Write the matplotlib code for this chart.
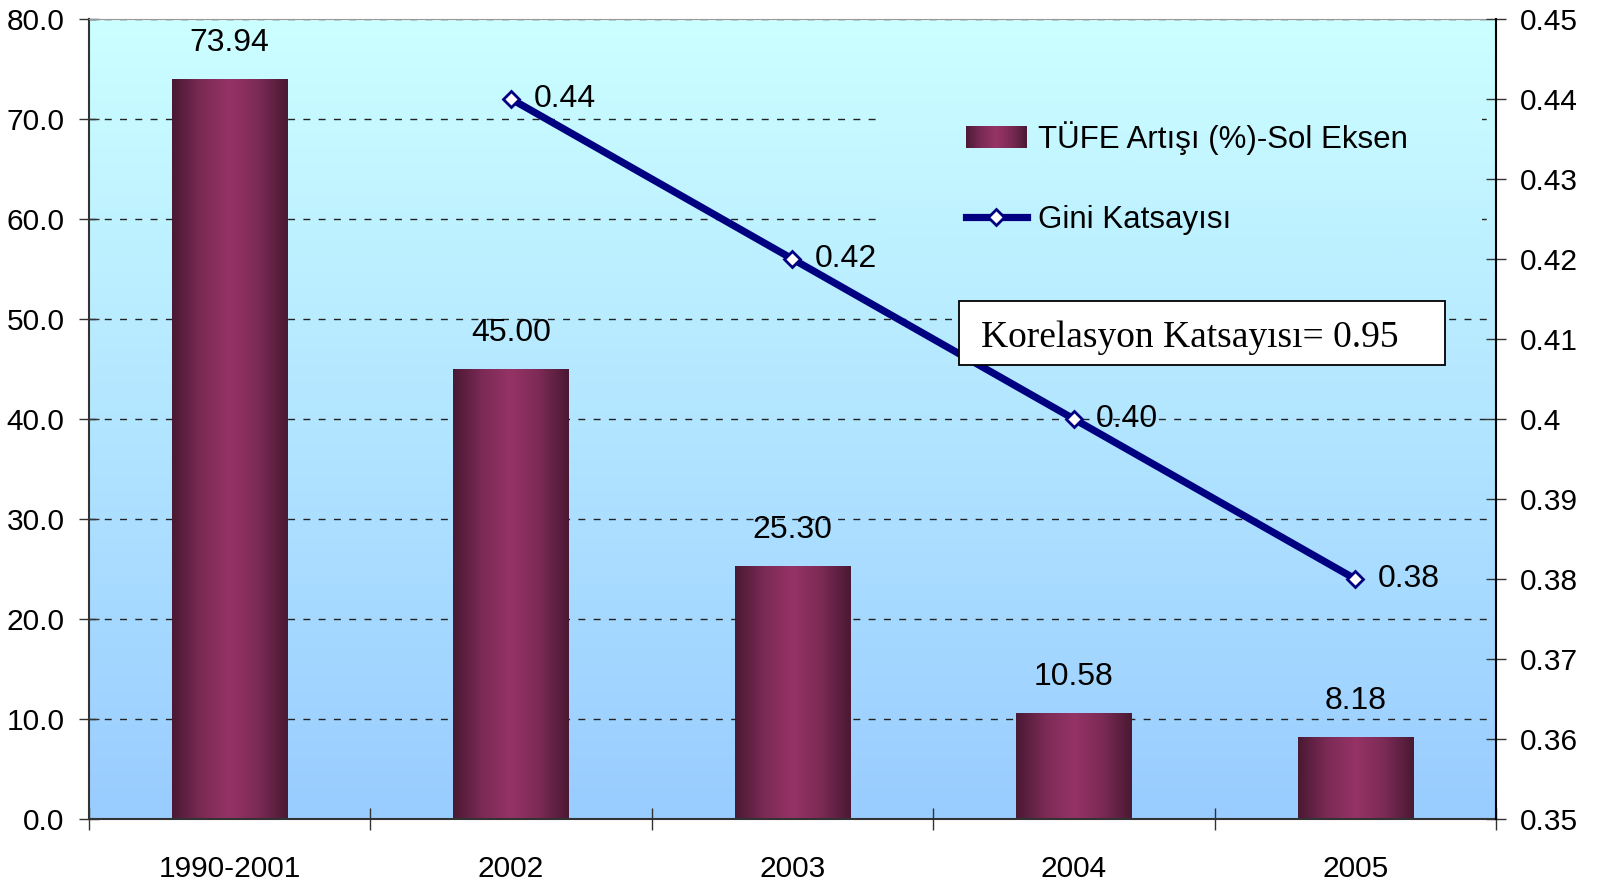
import matplotlib
matplotlib.use("Agg")
import matplotlib.pyplot as plt
import numpy as np
from matplotlib.colors import LinearSegmentedColormap
from matplotlib.patches import Rectangle
from matplotlib.legend_handler import HandlerBase
from matplotlib.ticker import FuncFormatter

# data
categories = ['1990-2001', '2002', '2003', '2004', '2005']
tufe = [73.94, 45.00, 25.30, 10.58, 8.18]
gini_cats = ['2002', '2003', '2004', '2005']
gini = [0.44, 0.42, 0.40, 0.38]
left_ticks = [0, 10, 20, 30, 40, 50, 60, 70, 80]
right_ticks = [0.35, 0.36, 0.37, 0.38, 0.39, 0.40, 0.41, 0.42, 0.43, 0.44, 0.45]
legend_labels = ['TÜFE Artışı (%)-Sol Eksen', 'Gini Katsayısı']
corr_text = 'Korelasyon Katsayısı= 0.95'

plt.rcParams['font.family'] = ['Liberation Sans', 'DejaVu Sans']

bar_cmap = LinearSegmentedColormap.from_list(
    'bar', ['#4a1933', '#7b2a55', '#963366', '#7b2a55', '#4a1933'])
bg_cmap = LinearSegmentedColormap.from_list('bg', ['#99ccff', '#ccffff'])


class GradientHandler(HandlerBase):
    # legend box drawn as thin strips so it gets the same shading as the bars
    def create_artists(self, legend, orig_handle, xdescent, ydescent,
                       width, height, fontsize, trans):
        n = 40
        arts = []
        for i in range(n):
            arts.append(Rectangle((-xdescent + width * i / n, -ydescent),
                                  width / n * 1.05, height,
                                  facecolor=bar_cmap((i + 0.5) / n),
                                  edgecolor='none', transform=trans))
        return arts


fig = plt.figure(figsize=(15.97, 8.85), dpi=100)
ax = fig.add_axes([89 / 1597, 66 / 885, 1407 / 1597, 800 / 885])

x = np.arange(len(categories))
xlo, xhi = -0.5, len(categories) - 0.5
ymax = 80

# background gradient
ax.imshow(np.linspace(0, 1, 256).reshape(-1, 1), cmap=bg_cmap, origin='lower',
          extent=(xlo, xhi, 0, ymax), aspect='auto', zorder=0)

# the legend area in the original hides the grid lines: same gradient patch over them
lx0, lx1 = xlo + 0.563 * (xhi - xlo), xlo + 0.99 * (xhi - xlo)
ly0, ly1 = 0.70 * ymax, 0.90 * ymax
ax.imshow(np.linspace(ly0 / ymax, ly1 / ymax, 64).reshape(-1, 1), cmap=bg_cmap,
          vmin=0, vmax=1, origin='lower', extent=(lx0, lx1, ly0, ly1),
          aspect='auto', zorder=1)

bars = ax.bar(x, tufe, width=0.41, facecolor='none', edgecolor='none', zorder=2)
grad = np.linspace(0, 1, 256).reshape(1, -1)
for b in bars:
    ax.imshow(grad, cmap=bar_cmap, aspect='auto', zorder=2,
              extent=(b.get_x(), b.get_x() + b.get_width(), 0, b.get_height()))

for xi, v in zip(x, tufe):
    ax.annotate(f'{v:.2f}', (xi, v), xytext=(0, 26), textcoords='offset points',
                ha='center', va='center', fontsize=23, zorder=4)

ax.set_xlim(xlo, xhi)
ax.set_ylim(0, ymax)
ax.set_yticks(left_ticks)
ax.yaxis.set_major_formatter(FuncFormatter(lambda v, p: f'{v:.1f}'))
ax.set_xticks(x)
ax.set_xticklabels(categories)
ax.set_xticks(np.arange(xlo, xhi + 0.01, 1), minor=True)
ax.tick_params(axis='x', which='major', length=0, pad=26, labelsize=21.5)
ax.tick_params(axis='x', which='minor', direction='inout', length=16, width=1, color='#333333')
ax.tick_params(axis='y', direction='inout', length=15, width=1, pad=10, labelsize=21.5, color='#333333')
ax.set_axisbelow(True)
ax.yaxis.grid(True, linestyle=(0, (5, 6)), color='#222222', lw=1)

ax.spines['top'].set_color('#999999')
for s in ['left', 'bottom']:
    ax.spines[s].set_color('#333333')
    ax.spines[s].set_linewidth(1.5)
ax.spines['right'].set_visible(False)

ax2 = ax.twinx()
xg = [categories.index(c) for c in gini_cats]
line, = ax2.plot(xg, gini, color='#000080', lw=5.2, marker='D', ms=8.5,
                 mfc='white', mec='#000080', mew=2, zorder=3)
for xi, g in zip(xg, gini):
    ax2.annotate(f'{g:.2f}', (xi, g), xytext=(16, 0), textcoords='offset points',
                 ha='left', va='center', fontsize=23, zorder=4)
ax2.set_ylim(0.35, 0.45)
ax2.set_yticks(right_ticks)
ax2.yaxis.set_major_formatter(FuncFormatter(lambda v, p: f'{v:g}'))
ax2.tick_params(axis='y', direction='inout', length=15, width=1, pad=10, labelsize=21.5, color='#333333')
for s in ['left', 'top', 'bottom']:
    ax2.spines[s].set_visible(False)
ax2.spines['right'].set_color('black')
ax2.spines['right'].set_linewidth(1.5)

proxy = Rectangle((0, 0), 1, 1)
leg = ax2.legend([proxy, line], legend_labels, handler_map={proxy: GradientHandler()},
                 loc='upper left', bbox_to_anchor=(0.5787, 0.9506), fontsize=22.5,
                 frameon=False, borderpad=1.5, labelspacing=1.6, handletextpad=0.36,
                 handlelength=1.95, numpoints=1)
leg.set_zorder(5)

# correlation note box
ax2.add_patch(Rectangle((0.6183, 0.5675), 0.3455, 0.08, transform=ax2.transAxes,
                        facecolor='white', edgecolor='black', lw=1.3, zorder=5))
ax2.text(0.634, 0.601, corr_text, transform=ax2.transAxes, ha='left', va='center',
         fontsize=27, family=['Liberation Serif', 'DejaVu Serif'], zorder=6)

fig.savefig('out.png', dpi=100)
